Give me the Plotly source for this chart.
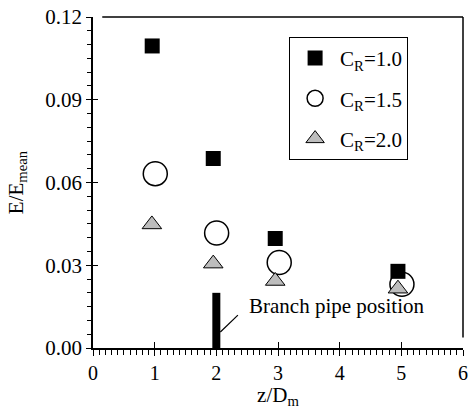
import plotly.graph_objects as go

# Normalised value E/E_mean against axial distance z/D_m for three C_R values
x_cr10 = [0.96, 1.95, 2.955, 4.945]
y_cr10 = [0.1095, 0.0687, 0.0397, 0.0278]

x_cr15 = [1.01, 2.005, 3.02, 5.01]
y_cr15 = [0.0632, 0.0417, 0.0310, 0.0231]

x_cr20 = [0.955, 1.95, 2.955, 4.945]
y_cr20 = [0.0448, 0.0306, 0.0243, 0.0215]

series_names = ["C<sub>R</sub>=1.0", "C<sub>R</sub>=1.5", "C<sub>R</sub>=2.0"]

# Branch pipe location marker
branch_x = 2.0
branch_height = 0.020
branch_label = "Branch pipe position"

x_ticks = [0, 1, 2, 3, 4, 5, 6]
y_ticks = [0.00, 0.03, 0.06, 0.09, 0.12]

FONT = "Liberation Serif"

fig = go.Figure()

fig.add_trace(go.Scatter(
    x=x_cr15, y=y_cr15, mode="markers", name=series_names[1], legendrank=2,
    legendgroup="b",
    marker=dict(symbol="circle", size=24, color="white",
                line=dict(color="black", width=1.5)),
))
fig.add_trace(go.Scatter(
    x=x_cr10, y=y_cr10, mode="markers", name=series_names[0], legendrank=1,
    legendgroup="a",
    marker=dict(symbol="square", size=15, color="black",
                line=dict(color="black", width=0)),
))
fig.add_trace(go.Scatter(
    x=x_cr20, y=y_cr20, mode="markers", name=series_names[2], legendrank=3,
    legendgroup="c",
    marker=dict(symbol="triangle-up", size=17, color="#bdbdbd",
                line=dict(color="black", width=1)),
))

# Thick bar marking the branch pipe, with a leader line to its label
fig.add_shape(type="line", x0=branch_x, x1=branch_x, y0=0, y1=branch_height,
              line=dict(color="black", width=8), layer="above")
fig.add_shape(type="line", x0=branch_x + 0.065, y0=0.0058,
              x1=branch_x + 0.35, y1=0.0119,
              line=dict(color="black", width=1.2))
fig.add_annotation(x=branch_x + 0.50, y=0.0151, text=branch_label,
                   showarrow=False, xanchor="left", yanchor="middle",
                   font=dict(family=FONT, size=21, color="black"))

# Frame on the top and right sides
fig.add_shape(type="line", xref="paper", yref="paper", x0=0.025, x1=1.0,
              y0=1.0, y1=1.0, line=dict(color="black", width=1.5))
fig.add_shape(type="line", xref="paper", yref="paper", x0=1.0, x1=1.0,
              y0=0.032, y1=1.0, line=dict(color="black", width=1.5))

axis_font = dict(family=FONT, size=21, color="black")
xtick_font = dict(family=FONT, size=20, color="black")

fig.update_layout(
    width=473, height=409,
    margin=dict(l=93, r=5, t=17, b=61),
    paper_bgcolor="white", plot_bgcolor="white",
    font=axis_font,
    showlegend=True,
    legend=dict(
        x=0.53, y=0.94, xanchor="left", yanchor="top",
        bgcolor="white", bordercolor="black", borderwidth=1,
        font=dict(family=FONT, size=21, color="black"),
        tracegroupgap=10, itemwidth=40,
    ),
    xaxis=dict(
        range=[0, 6], tickvals=x_ticks, ticktext=[str(v) for v in x_ticks],
        showgrid=False, zeroline=False,
        showline=True, linecolor="black", linewidth=1.5,
        ticks="outside", ticklen=6, tickwidth=1.2, tickcolor="black",
        minor=dict(dtick=0.1, ticks="outside", ticklen=5, tickwidth=1,
                   tickcolor="black", showgrid=False),
        tickfont=xtick_font,
        title=dict(text="z/D<sub>m</sub>", font=axis_font, standoff=6),
    ),
    yaxis=dict(
        range=[0, 0.12], tickvals=y_ticks, ticktext=[f"{v:.2f}" for v in y_ticks],
        showgrid=False, zeroline=False,
        showline=True, linecolor="black", linewidth=1.5,
        ticks="outside", ticklen=5, tickwidth=1.2, tickcolor="black",
        minor=dict(dtick=0.005, ticks="outside", ticklen=4, tickwidth=1,
                   tickcolor="black", showgrid=False),
        tickfont=axis_font,
        title=dict(text="E/E<sub>mean</sub>", font=axis_font, standoff=16),
    ),
    # overlay axes supply the inward half of the major ticks
    xaxis2=dict(overlaying="x", matches="x", range=[0, 6], tickvals=x_ticks,
                showticklabels=False, showgrid=False, zeroline=False,
                ticks="inside", ticklen=6, tickwidth=1.2, tickcolor="black",
                showline=False),
    yaxis2=dict(overlaying="y", matches="y", range=[0, 0.12], tickvals=y_ticks,
                showticklabels=False, showgrid=False, zeroline=False,
                ticks="inside", ticklen=5, tickwidth=1.2, tickcolor="black",
                showline=False),
)

# invisible trace so the overlay axes are drawn
fig.add_trace(go.Scatter(x=[None], y=[None], xaxis="x2", yaxis="y2",
                         showlegend=False, hoverinfo="skip"))

fig.write_html("out.html")
